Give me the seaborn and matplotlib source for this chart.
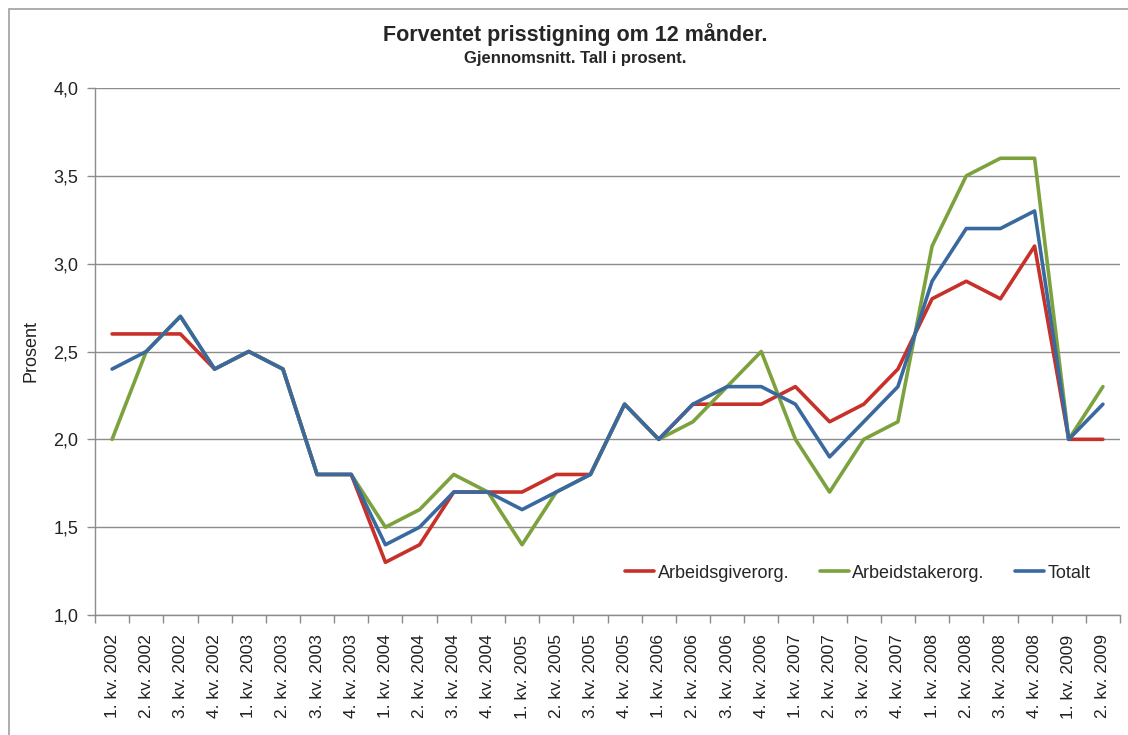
import matplotlib
matplotlib.use('Agg')
import matplotlib.pyplot as plt
import matplotlib.patches as mpatches
from matplotlib.ticker import FixedLocator, FuncFormatter
import pandas as pd
import seaborn as sns

# quarters 1. kv. 2002 .. 2. kv. 2009
quarters = [f'{q}. kv. {y}' for y in range(2002, 2010) for q in range(1, 5)][:30]

arbeidsgiver = [2.6, 2.6, 2.6, 2.4, 2.5, 2.4, 1.8, 1.8, 1.3, 1.4,
                1.7, 1.7, 1.7, 1.8, 1.8, 2.2, 2.0, 2.2, 2.2, 2.2,
                2.3, 2.1, 2.2, 2.4, 2.8, 2.9, 2.8, 3.1, 2.0, 2.0]
arbeidstaker = [2.0, 2.5, 2.7, 2.4, 2.5, 2.4, 1.8, 1.8, 1.5, 1.6,
                1.8, 1.7, 1.4, 1.7, 1.8, 2.2, 2.0, 2.1, 2.3, 2.5,
                2.0, 1.7, 2.0, 2.1, 3.1, 3.5, 3.6, 3.6, 2.0, 2.3]
totalt = [2.4, 2.5, 2.7, 2.4, 2.5, 2.4, 1.8, 1.8, 1.4, 1.5,
          1.7, 1.7, 1.6, 1.7, 1.8, 2.2, 2.0, 2.2, 2.3, 2.3,
          2.2, 1.9, 2.1, 2.3, 2.9, 3.2, 3.2, 3.3, 2.0, 2.2]

series_names = ['Arbeidsgiverorg.', 'Arbeidstakerorg.', 'Totalt']
colors = ['#C8302A', '#7CA23D', '#3A69A0']

df = pd.DataFrame({
    'pos': list(range(len(quarters))) * 3,
    'verdi': arbeidsgiver + arbeidstaker + totalt,
    'serie': [s for s in series_names for _ in quarters],
})

sns.set_style('white')
plt.rcParams['font.family'] = ['Liberation Sans', 'DejaVu Sans']

fig = plt.figure(figsize=(11.28, 7.35), dpi=100)
ax = fig.add_axes([95 / 1128, 1 - 615 / 735, (1120 - 95) / 1128, (615 - 88) / 735])

# outer chart border (top and left visible)
fig.patches.append(mpatches.Rectangle((9 / 1128, -0.1), 1.2, 1 - 9 / 735 + 0.1,
                                      transform=fig.transFigure, fill=False,
                                      edgecolor='#A0A0A0', linewidth=1.2))

sns.lineplot(data=df, x='pos', y='verdi', hue='serie', palette=colors,
             linewidth=2.6, ax=ax, legend=True)

ax.set_xlim(-0.5, len(quarters) - 0.5)
ax.set_ylim(1.0, 4.0)
ax.set_yticks([1.0, 1.5, 2.0, 2.5, 3.0, 3.5, 4.0])
ax.yaxis.set_major_formatter(FuncFormatter(lambda v, p: f'{v:.1f}'.replace('.', ',')))
ax.grid(axis='y', color='#8C8C8C', linewidth=1.0)
ax.set_axisbelow(True)

ax.set_xticks(range(len(quarters)))
ax.set_xticklabels(quarters, rotation=90)
ax.xaxis.set_minor_locator(FixedLocator([i - 0.5 for i in range(len(quarters) + 1)]))
ax.tick_params(axis='x', which='major', length=0, pad=14, labelsize=12.5, colors='#222222')
ax.tick_params(axis='x', which='minor', length=6, width=1, color='#8C8C8C', direction='out', bottom=True)
ax.tick_params(axis='y', length=6, width=1, color='#8C8C8C', direction='out', left=True,
               labelsize=13, pad=6, labelcolor='#222222')

for side in ['top', 'right']:
    ax.spines[side].set_visible(False)
for side in ['left', 'bottom']:
    ax.spines[side].set_color('#8C8C8C')
    ax.spines[side].set_linewidth(1.0)

ax.set_xlabel('')
ax.set_ylabel('Prosent', fontsize=13, color='#222222', labelpad=10)

handles, labels = ax.get_legend_handles_labels()
ax.legend(handles, labels, loc='center', bbox_to_anchor=(858 / 1128, 1 - 573 / 735),
          bbox_transform=fig.transFigure, ncol=3, frameon=False, fontsize=13,
          handlelength=1.6, handletextpad=0.2, columnspacing=1.7)

fig.text(0.51, 1 - 35 / 735, 'Forventet prisstigning om 12 månder.', ha='center', va='center',
         fontsize=15.5, fontweight='bold')
fig.text(0.51, 1 - 58 / 735, 'Gjennomsnitt. Tall i prosent.', ha='center', va='center',
         fontsize=12, fontweight='bold')

fig.savefig('out.png', dpi=100)
